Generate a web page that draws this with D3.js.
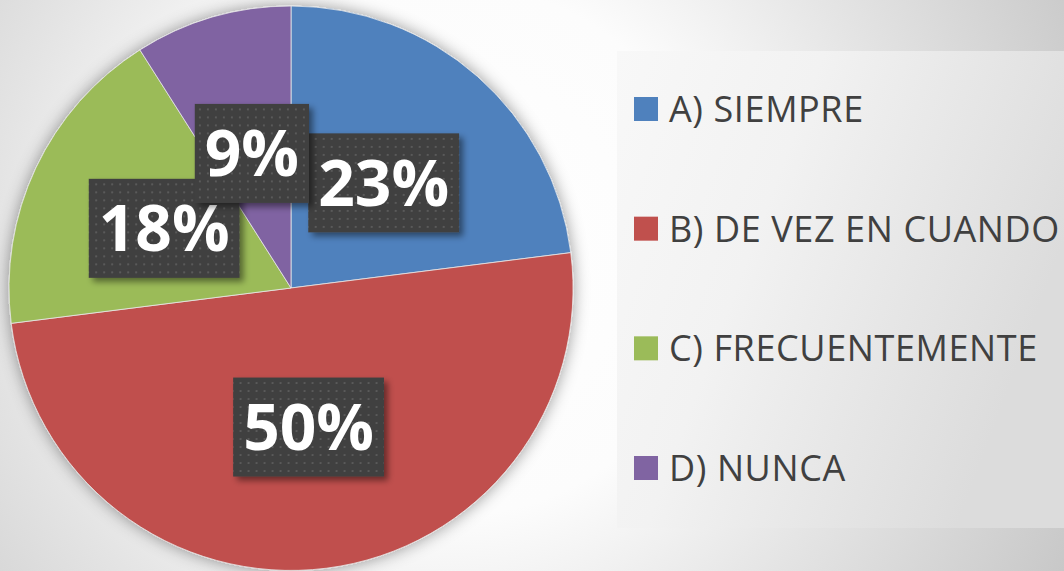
<!DOCTYPE html>
<meta charset="utf-8">
<style>
  body { margin: 0; overflow: hidden; }
  .legend text { font: 36px "Open Sans", sans-serif; fill: #404040; letter-spacing: 0.6px; }
  .lbl text { font: bold 64px "Open Sans", sans-serif; fill: #fff; }
</style>
<svg width="1064" height="571"></svg>
<script src="https://d3js.org/d3.v7.min.js"></script>
<script>

// survey answers
var categories = ["A) SIEMPRE", "B) DE VEZ EN CUANDO", "C) FRECUENTEMENTE", "D) NUNCA"];
var values = [23, 50, 18, 9];
var labels = ["23%", "50%", "18%", "9%"];
var colors = ["#4f81bd", "#c0504d", "#9bbb59", "#8064a2"];

var svg = d3.select("svg"),
    W = +svg.attr("width"),
    H = +svg.attr("height");

var defs = svg.append("defs");

// page background, white-ish glow toward the middle
var bg = defs.append("radialGradient").attr("id", "bg")
    .attr("gradientUnits", "userSpaceOnUse")
    .attr("cx", 450).attr("cy", 250).attr("r", 760);
bg.append("stop").attr("offset", 0).attr("stop-color", "#ffffff");
bg.append("stop").attr("offset", 0.35).attr("stop-color", "#fcfcfc");
bg.append("stop").attr("offset", 0.6).attr("stop-color", "#e4e4e4");
bg.append("stop").attr("offset", 1).attr("stop-color", "#c0c0c0");

// legend panel
var lg = defs.append("linearGradient").attr("id", "panel")
    .attr("x1", 0).attr("y1", 0).attr("x2", 1).attr("y2", 0.4);
lg.append("stop").attr("offset", 0).attr("stop-color", "#f8f8f8");
lg.append("stop").attr("offset", 0.4).attr("stop-color", "#f2f2f2");
lg.append("stop").attr("offset", 1).attr("stop-color", "#dcdcdc");

// dotted texture for the data label boxes
var pat = defs.append("pattern").attr("id", "dots")
    .attr("patternUnits", "userSpaceOnUse")
    .attr("width", 8).attr("height", 8);
pat.append("rect").attr("width", 8).attr("height", 8).attr("fill", "#3f3f3f");
pat.append("rect").attr("x", 3).attr("y", 3).attr("width", 2).attr("height", 2).attr("fill", "#5a5a5a");

var sh = defs.append("filter").attr("id", "pieShadow")
    .attr("x", "-20%").attr("y", "-20%").attr("width", "140%").attr("height", "140%");
sh.append("feDropShadow").attr("dx", 0).attr("dy", 0).attr("stdDeviation", 8)
    .attr("flood-color", "#000").attr("flood-opacity", 0.4);

var bs = defs.append("filter").attr("id", "boxShadow")
    .attr("x", "-20%").attr("y", "-20%").attr("width", "150%").attr("height", "150%");
bs.append("feDropShadow").attr("dx", 4).attr("dy", 4).attr("stdDeviation", 3)
    .attr("flood-color", "#000").attr("flood-opacity", 0.45);

svg.append("rect").attr("width", W).attr("height", H).attr("fill", "url(#bg)");

svg.append("rect")
    .attr("x", 617).attr("y", 51)
    .attr("width", W - 617).attr("height", 528 - 51)
    .attr("fill", "url(#panel)");

// pie
var cx = 291, cy = 288, radius = 282;

var data = categories.map(function(c, i) {
  return {cat: c, value: values[i], label: labels[i], color: colors[i]};
});

var pie = d3.pie().sort(null).value(d => d.value);
var arc = d3.arc().innerRadius(0).outerRadius(radius);
var labelArc = d3.arc().innerRadius(radius * 0.497).outerRadius(radius * 0.497);

var g = svg.append("g").attr("transform", "translate(" + cx + "," + cy + ")");

g.append("g").attr("filter", "url(#pieShadow)")
  .selectAll("path")
  .data(pie(data))
  .enter().append("path")
    .attr("d", arc)
    .attr("fill", d => d.data.color)
    .attr("stroke", "#e8e8e8")
    .attr("stroke-width", 0.8);

// data labels in dark boxes
var lbl = g.selectAll(".lbl")
  .data(pie(data))
  .enter().append("g")
    .attr("class", "lbl")
    .attr("transform", d => "translate(" + labelArc.centroid(d) + ")");

lbl.append("rect").attr("filter", "url(#boxShadow)");
lbl.append("text")
    .attr("text-anchor", "middle")
    .attr("dy", "0.36em")
    .text(d => d.data.label);

lbl.each(function() {
  var t = d3.select(this).select("text"),
      w = t.node().getComputedTextLength() + 20,
      h = 99;
  d3.select(this).select("rect")
      .attr("x", -w / 2).attr("y", -h / 2)
      .attr("width", w).attr("height", h)
      .attr("fill", "url(#dots)");
});

// legend
var ly = d3.scalePoint().domain(categories).range([109, 468]);

var legend = svg.append("g").attr("class", "legend")
  .selectAll("g")
  .data(data)
  .enter().append("g")
    .attr("transform", d => "translate(634," + ly(d.cat) + ")");

legend.append("rect")
    .attr("y", -12)
    .attr("width", 24).attr("height", 24)
    .attr("fill", d => d.color);

legend.append("text")
    .attr("x", 35)
    .attr("y", 13)
    .text(d => d.cat);

</script>
